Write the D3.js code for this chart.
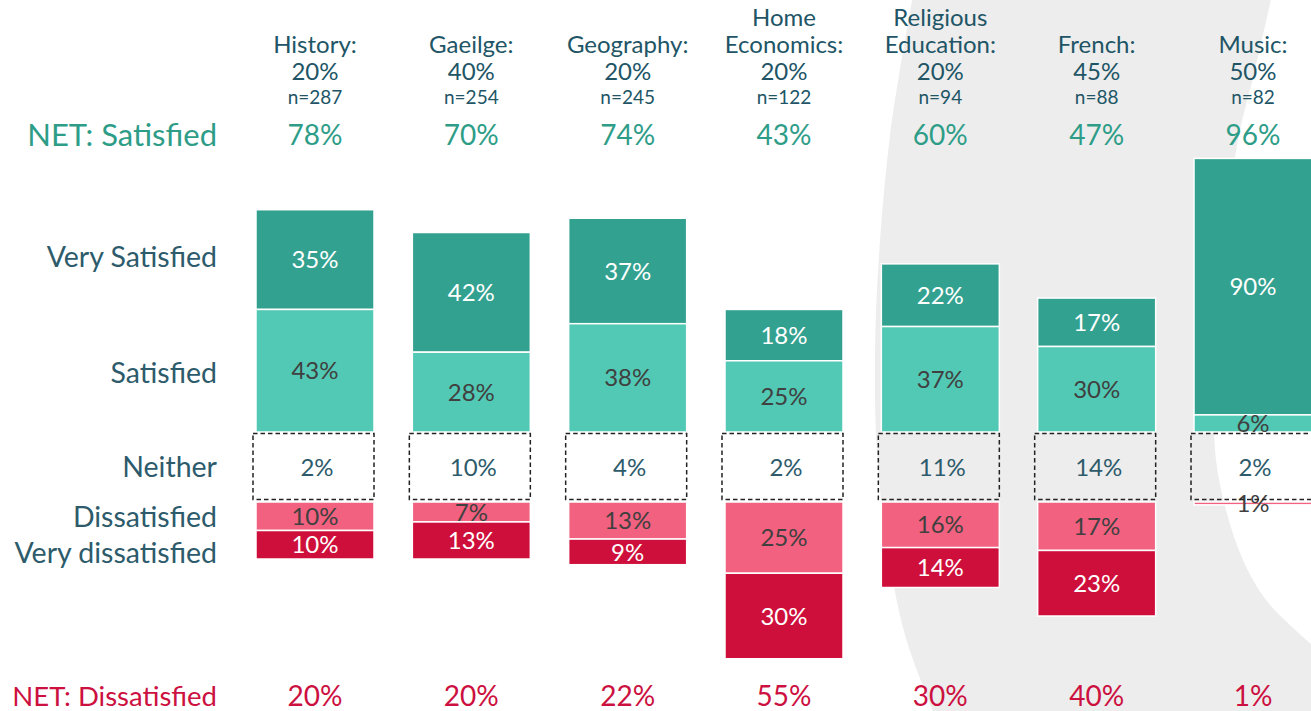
<!DOCTYPE html>
<html>
<head>
<meta charset="utf-8">
<script src="https://cdn.jsdelivr.net/npm/d3@7"></script>
<style>
  html, body { margin: 0; padding: 0; background: #fff; overflow: hidden; }
  svg { display: block; font-family: Lato, "Open Sans", sans-serif; }
</style>
</head>
<body>
<div id="chart"></div>
<script>
// subjects (header lines), share of students, base size
var headers = [["History:"], ["Gaeilge:"], ["Geography:"], ["Home", "Economics:"], ["Religious", "Education:"], ["French:"], ["Music:"]];
var shares = ["20%", "40%", "20%", "20%", "20%", "45%", "50%"];
var bases = [287, 254, 245, 122, 94, 88, 82];

var netSatisfied = [78, 70, 74, 43, 60, 47, 96];
var netDissatisfied = [20, 20, 22, 55, 30, 40, 1];

var verySatisfied = [35, 42, 37, 18, 22, 17, 90];
var satisfied = [43, 28, 38, 25, 37, 30, 6];
var neither = [2, 10, 4, 2, 11, 14, 2];
var dissatisfied = [10, 7, 13, 25, 16, 17, 1];
var veryDissatisfied = [10, 13, 9, 30, 14, 23, 0];

var rowLabels = ["Very Satisfied", "Satisfied", "Neither", "Dissatisfied", "Very dissatisfied"];

var W = 1311, H = 711;
var teal = "#215566", green = "#2e9d88", red = "#cc1040";

var svg = d3.select("#chart").append("svg").attr("width", W).attr("height", H);

// background decoration: big light grey arc
var outerEdge = [[913, -5], [890, 136], [878, 272], [875, 363], [877, 454], [887, 544], [905, 635], [935, 716]];
var innerEdge = [[1272, -5], [1255, 70], [1238, 140], [1222, 260], [1214, 400], [1216, 460], [1226, 510], [1243, 560], [1266, 600], [1290, 625], [1320, 652]];
var curve = d3.line().curve(d3.curveCatmullRom);
svg.append("path")
    .attr("d", "M1320,716L" + curve(outerEdge.slice().reverse()).slice(1) + "L1320,-5Z")
    .attr("fill", "#ededed");
svg.append("path")
    .attr("d", "M1320,-5L" + curve(innerEdge).slice(1) + "Z")
    .attr("fill", "#fff");

var x = d3.scalePoint().domain(d3.range(headers.length)).range([315, 1253]);
var y = d3.scaleLinear().domain([0, 100]).range([0, 285]);
var barW = 118;
var posBase = 432, negBase = 502;

var series = [
  {vals: verySatisfied, fill: "#33a18f", text: "#ffffff", side: "pos", order: 1},
  {vals: satisfied, fill: "#52c9b4", text: "#404040", side: "pos", order: 0},
  {vals: dissatisfied, fill: "#f2617f", text: "#404040", side: "neg", order: 0},
  {vals: veryDissatisfied, fill: "#cf0f3b", text: "#ffffff", side: "neg", order: 1}
];

var segs = [];
series.forEach(function(s) {
  s.vals.forEach(function(v, i) {
    var start = 0;
    if (s.side == "pos") {
      if (s.order == 1) start = satisfied[i];
      segs.push({i: i, v: v, y0: posBase - y(start + v), h: y(v), s: s});
    } else {
      if (s.order == 1) start = dissatisfied[i];
      segs.push({i: i, v: v, y0: negBase + y(start), h: y(v), s: s});
    }
  });
});

var g = svg.append("g");
g.selectAll("rect.seg").data(segs.filter(function(d) { return d.v > 0; }))
  .enter().append("rect")
  .attr("class", "seg")
  .attr("x", function(d) { return x(d.i) - barW / 2; })
  .attr("y", function(d) { return d.y0; })
  .attr("width", barW)
  .attr("height", function(d) { return d.h; })
  .attr("fill", function(d) { return d.s.fill; })
  .attr("stroke", "#fff")
  .attr("stroke-width", 1.5);

g.selectAll("text.seg").data(segs.filter(function(d) { return d.v > 0; }))
  .enter().append("text")
  .attr("x", function(d) { return x(d.i); })
  .attr("y", function(d) { return d.y0 + d.h / 2; })
  .attr("dy", "0.36em")
  .attr("text-anchor", "middle")
  .attr("font-size", "24px")
  .attr("fill", function(d) { return d.s.text; })
  .text(function(d) { return d.v + "%"; });

// neither boxes (fixed height, dashed)
var nb = g.selectAll("g.neither").data(neither).enter().append("g");
nb.append("rect")
  .attr("x", function(d, i) { return x(i) - barW / 2 - 3; })
  .attr("y", posBase + 1.5)
  .attr("width", barW + 3)
  .attr("height", negBase - posBase - 4)
  .attr("fill", "none")
  .attr("stroke", "#222")
  .attr("stroke-width", 1.5)
  .attr("stroke-dasharray", "4.5,3");
nb.append("text")
  .attr("x", function(d, i) { return x(i) + 2; })
  .attr("y", (posBase + negBase) / 2)
  .attr("dy", "0.36em")
  .attr("text-anchor", "middle")
  .attr("font-size", "24px")
  .attr("fill", "#2d5b6b")
  .text(function(d) { return d + "%"; });

// headers
headers.forEach(function(lines, i) {
  var cx = x(i);
  lines.forEach(function(l, j) {
    svg.append("text").attr("x", cx).attr("y", 53 - (lines.length - 1 - j) * 27)
      .attr("text-anchor", "middle").attr("font-size", "24px").attr("fill", teal).text(l);
  });
  svg.append("text").attr("x", cx).attr("y", 80)
    .attr("text-anchor", "middle").attr("font-size", "24px").attr("fill", teal).text(shares[i]);
  svg.append("text").attr("x", cx).attr("y", 104)
    .attr("text-anchor", "middle").attr("font-size", "19px").attr("fill", teal).text("n=" + bases[i]);
});

svg.selectAll("text.netS").data(netSatisfied).enter().append("text")
  .attr("x", function(d, i) { return x(i); }).attr("y", 145)
  .attr("text-anchor", "middle").attr("font-size", "28px").attr("fill", green)
  .text(function(d) { return d + "%"; });
svg.selectAll("text.netD").data(netDissatisfied).enter().append("text")
  .attr("x", function(d, i) { return x(i); }).attr("y", 706)
  .attr("text-anchor", "middle").attr("font-size", "28px").attr("fill", red)
  .text(function(d) { return d + "%"; });

// row labels, placed against the first column's segments
var first = segs.filter(function(d) { return d.i == 0; });
var rowY = [
  first[0].y0 + first[0].h / 2 - 3,
  first[1].y0 + first[1].h / 2 + 2,
  (posBase + negBase) / 2,
  first[2].y0 + first[2].h / 2,
  first[3].y0 + first[3].h / 2 + 8
];
rowLabels.forEach(function(l, k) {
  svg.append("text").attr("x", 217).attr("y", rowY[k]).attr("dy", "0.36em")
    .attr("text-anchor", "end").attr("font-size", "28.5px").attr("fill", "#2d5b6b").text(l);
});
svg.append("text").attr("x", 217).attr("y", 146).attr("text-anchor", "end")
  .attr("font-size", "31px").attr("fill", green).text("NET: Satisfied");
svg.append("text").attr("x", 217).attr("y", 706).attr("text-anchor", "end")
  .attr("font-size", "27.5px").attr("fill", red).text("NET: Dissatisfied");
</script>
</body>
</html>
